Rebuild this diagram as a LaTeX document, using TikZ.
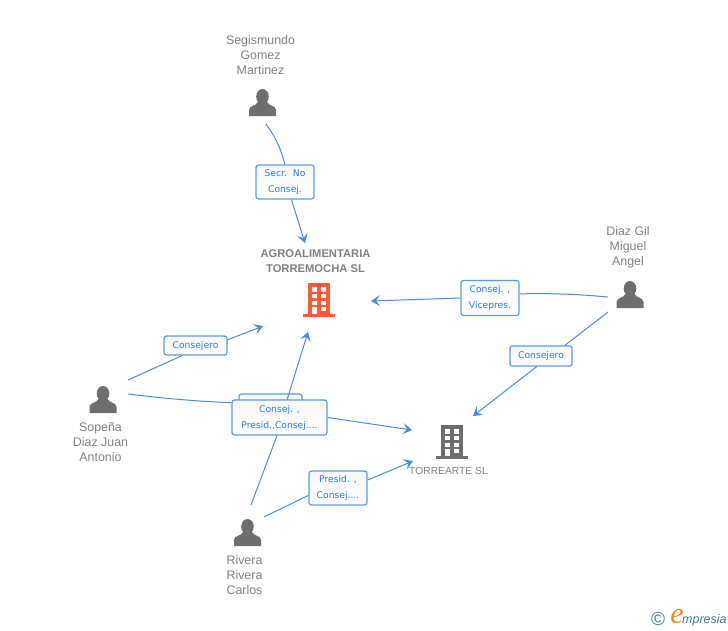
\documentclass[tikz,border=0pt]{standalone}
\usepackage{fontspec}
\setmainfont{Liberation Sans}
\newfontfamily\boxfont{DejaVu Sans}
\newfontfamily\logofont{Liberation Serif}
\usetikzlibrary{arrows.meta}
\definecolor{linkblue}{HTML}{4A8BE3}
\definecolor{boxblue}{HTML}{5C9AE6}
\definecolor{textblue}{HTML}{2F7BE0}
\definecolor{icongrey}{HTML}{6E6E6E}
\definecolor{nodeorange}{HTML}{FF5A33}
\definecolor{labelgrey}{HTML}{808080}
\definecolor{logoteal}{HTML}{3F7F95}
\definecolor{logoorange}{HTML}{F08A1D}
\tikzset{
  link/.style={draw=linkblue,line width=1pt},
  arrowlink/.style={link,-{Stealth[length=9pt,width=11pt,inset=4pt]}},
  rolebox/.style={draw=boxblue,line width=1.2pt,rounded corners=2.5pt,top color=black!3,bottom color=white,
    text=textblue,align=center,inner sep=0pt,font=\boxfont\fontsize{9.2}{16}\selectfont},
  namelabel/.style={text=labelgrey,align=center,inner sep=0pt,font=\fontsize{12.4}{15}\selectfont},
  firmlabel/.style={text=labelgrey,align=center,inner sep=0pt,font=\bfseries\fontsize{11.2}{15}\selectfont},
  pics/personicon/.style={code={
    \fill[pic actions] (0,-6.5) ellipse (6.3 and 7.5);
    \fill[pic actions] (-13.5,13) -- (-13.5,7) .. controls (-13.5,2.5) and (-6,3) .. (-4.5,-1)
      -- (4.5,-1) .. controls (6,3) and (13.5,2.5) .. (13.5,7) -- (13.5,13) -- cycle;
  }},
  pics/buildingicon/.style={code={
    \fill[pic actions] (-11,-17) rectangle (11,14);
    \fill[pic actions] (-16,14) rectangle (16,17);
    \foreach \rowy in {-12.7,-6,0.7}{
      \fill[white] (-7,\rowy) rectangle (-2,\rowy+4.2);
      \fill[white] (2.3,\rowy) rectangle (7.3,\rowy+4.2);
    }
    \fill[white] (-7,7) rectangle (-2,14);
    \fill[white] (2.3,7) rectangle (7.3,11.3);
  }}
}
\begin{document}
\begin{tikzpicture}[x=1pt,y=-1pt]
  \useasboundingbox (0,0) rectangle (728,630);

  % people
  \pic[fill=icongrey] at (262.5,103) {personicon};
  \pic[fill=icongrey] at (630,295) {personicon};
  \pic[fill=icongrey] at (103,400) {personicon};
  \pic[fill=icongrey] at (247.5,533) {personicon};
  \node[namelabel] (segismundo) at (260.5,55) {Segismundo\\Gomez\\Martinez};
  \node[namelabel] (diazgil) at (628,247) {Diaz Gil\\Miguel\\Angel};
  \node[namelabel] (sopena) at (100.5,442) {Sopeña\\Diaz Juan\\Antonio};
  \node[namelabel] (rivera) at (244.5,575) {Rivera\\Rivera\\Carlos};

  % firms
  \pic[fill=nodeorange] at (318.5,300) {buildingicon};
  \pic[fill=icongrey] at (452,442) {buildingicon};
  \node[firmlabel] (agro) at (315.5,261) {AGROALIMENTARIA\\TORREMOCHA SL};
  \node[text=labelgrey,inner sep=0pt,font=\fontsize{10.3}{13}\selectfont] (torrearte) at (448.5,471) {TORREARTE SL};

  % link ends
  \coordinate (segismundo_out) at (266,124);
  \coordinate (diazgil_out1) at (608,297);
  \coordinate (diazgil_out2) at (608,312);
  \coordinate (sopena_out1) at (128,380);
  \coordinate (sopena_out2) at (128,394);
  \coordinate (rivera_out1) at (251,505);
  \coordinate (rivera_out2) at (264,517);
  \coordinate (agro_top) at (305,243);
  \coordinate (agro_right) at (371,301);
  \coordinate (agro_left) at (263,326);
  \coordinate (agro_bottom) at (308,332);
  \coordinate (torrearte_top) at (473,416);
  \coordinate (torrearte_left1) at (412,430);
  \coordinate (torrearte_left2) at (413,461);

  % role boxes
  \node[rolebox,minimum width=58pt,minimum height=34pt] (secr) at (285,182) {Secr.\ \ No\\Consej.};
  \node[rolebox,minimum width=58pt,minimum height=35pt] (vicepres) at (490,298) {Consej. ,\\Vicepres.};
  \node[rolebox,minimum width=62pt,minimum height=20pt] (consejero1) at (541,356) {Consejero};
  \node[rolebox,minimum width=63pt,minimum height=19pt] (consejero2) at (195.5,345.5) {Consejero};
  \node[rolebox,minimum width=63pt,minimum height=19pt] (hidden) at (270.5,403.5) {};
  \node[rolebox,minimum width=95pt,minimum height=35pt] (presid1) at (279.5,417.5) {Consej. ,\\Presid.,Consej....};
  \node[rolebox,minimum width=58pt,minimum height=34pt] (presid2) at (338,488) {Presid. ,\\Consej....};

  % links
  \draw[link] (segismundo_out) to[bend left=10] (secr.90);
  \draw[arrowlink] (secr.-70) -- (agro_top);
  \draw[link] (diazgil_out1) to[bend right=3] (vicepres.8);
  \draw[arrowlink] (vicepres.180) -- (agro_right);
  \draw[link] (diazgil_out2) -- (consejero1.24);
  \draw[arrowlink] (consejero1.-112) -- (torrearte_top);
  \draw[link] (sopena_out1) -- (consejero2.-143);
  \draw[arrowlink] (consejero2.10) -- (agro_left);
  \draw[link] (sopena_out2) to[bend right=2] (presid1.163);
  \draw[arrowlink] (presid1.0) -- (torrearte_left1);
  \draw[link] (rivera_out1) -- (presid1.-98);
  \draw[arrowlink] (presid1.67) -- (agro_bottom);
  \draw[link] (rivera_out2) -- (presid2.-166);
  \draw[arrowlink] (presid2.15) -- (torrearte_left2);

  % logo
  \node[text=logoteal,inner sep=0pt,font=\fontsize{19}{19}\selectfont] (logo_c) at (658,619) {©};
  \node[text=logoorange,inner sep=0pt,font=\logofont\itshape\fontsize{30}{30}\selectfont] (logo_e) at (677,617) {e};
  \node[text=logoteal,inner sep=0pt,anchor=west,font=\itshape\fontsize{12.5}{12}\selectfont] (logo_text) at (682,620) {mpresia};
\end{tikzpicture}
\end{document}
